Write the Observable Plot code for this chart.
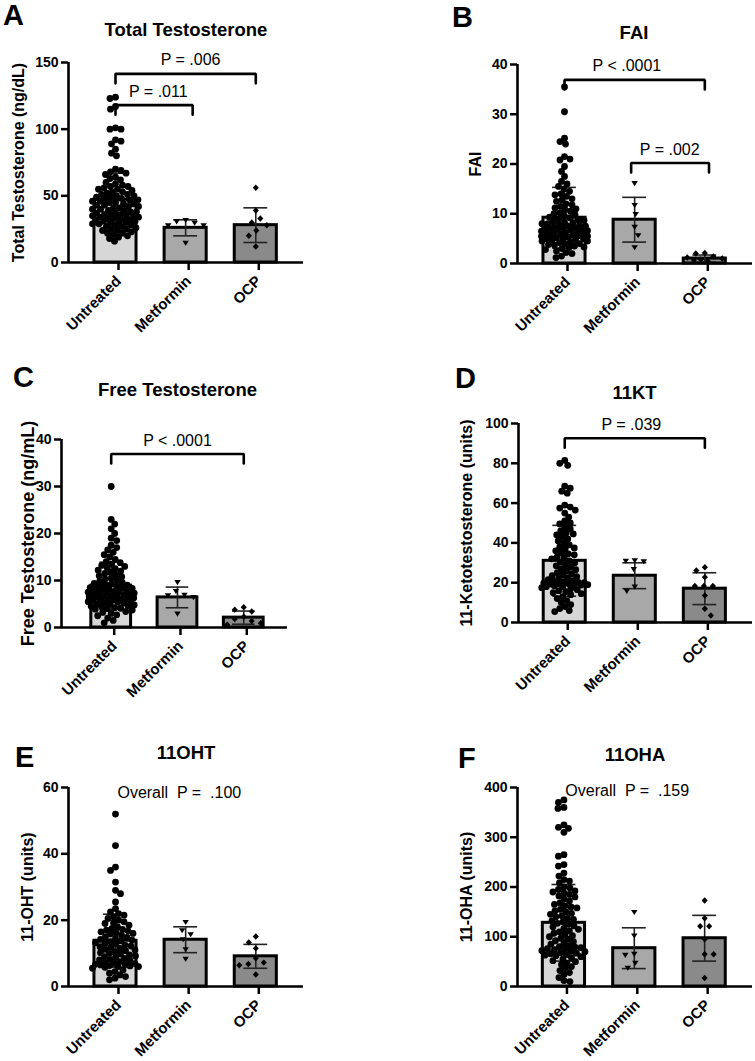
<!DOCTYPE html>
<html><head><meta charset="utf-8">
<script src="https://cdn.jsdelivr.net/npm/d3@7"></script>
<script src="https://cdn.jsdelivr.net/npm/@observablehq/plot@0.6"></script>
<style>
body{margin:0;background:#fff;}
#page{position:relative;width:755px;height:1061px;background:#fff;overflow:hidden;font-family:"Liberation Sans",Arial,sans-serif;color:#000;}
.letter{position:absolute;font-weight:bold;font-size:29px;line-height:1.1;white-space:nowrap;}
.title{position:absolute;font-weight:bold;font-size:18.5px;line-height:1;white-space:nowrap;transform:translateX(-50%);}
.panel{position:absolute;}
svg text{white-space:pre;}
</style></head>
<body><div id="page"></div>
<script>
// ---------- data ----------
const groups = ["Untreated", "Metformin", "OCP"];
const barFills = ["#d7d7d7", "#a8a8a8", "#8a8a8a"];

// A: Total Testosterone (ng/dL)
const totalT_untreated = [124,123,117,115,101,100,100,92,91,89,85,82,80,70,69,68,67,66,64,63,62,60,59,58,57,57,56,55,55,54,53,53,52,51,51,50,50,49,49,48,48,47,47,46,46,45,45,44,44,43,43,42,42,41,41,40,40,39,39,38,38,37,37,36,36,36,35,35,35,34,34,34,33,33,33,32,32,31,31,31,30,30,29,29,28,28,27,27,26,25,25,24,24,23,22,22,21,20,19,18,16];
const totalT_metformin = [30,32,28,28,31,15];
const totalT_ocp = [56,39,33,30,28,24,20,12];
const totalT_mean = [47,26,28];
const totalT_sd = [20,6,13];
const totalT_ticks = [0,50,100,150];
const totalT_brackets = [
  {from:0, to:2, y:141.5, labelX:1.07, label:"P = .006"},
  {from:0, to:1.1, y:118, labelX:0.61, label:"P = .011"}
];

// B: FAI
const fai_untreated = [35.5,30.5,25.2,24.5,24,21.5,21,20.8,19.5,18.5,17.5,16.5,16,15.5,15,14.5,14,13.8,13.5,13,12.8,12.5,12,11.8,11.5,11.2,11,10.8,10.5,10.2,10,9.8,9.5,9.3,9.2,9,8.8,8.7,8.5,8.3,8.2,8,8,7.8,7.7,7.5,7.5,7.3,7.2,7.1,7,7,6.9,6.8,6.7,6.6,6.5,6.5,6.3,6.2,6.1,6,6,5.8,5.7,5.6,5.5,5.5,5.3,5.2,5.1,5,5,4.8,4.7,4.5,4.5,4.3,4.2,4,4,3.8,3.7,3.5,3.3,3.2,3,2.8,2.5,2.2,2,1.5,1.2];
const fai_metformin = [16.2,11.8,10,7.4,5.7,3.3];
const fai_ocp = [2.1,2.0,1.4,1.2,1.0,0.8,0.7,0.5];
const fai_mean = [9.2,8.8,1.0];
const fai_sd = [6.1,4.5,0.7];
const fai_ticks = [0,10,20,30,40];
const fai_brackets = [
  {from:0, to:2, y:36.9, labelX:0.89, label:"P < .0001"},
  {from:0.95, to:2.06, y:20.2, labelX:1.5, label:"P = .002"}
];

// C: Free Testosterone (ng/mL)
const freeT_untreated = [30,23,22,21,20,19,18.5,17.5,17,16.5,16,15.5,15,14.5,14,13.8,13.5,13.2,13,12.7,12.5,12.2,12,11.7,11.5,11.2,11,10.8,10.5,10.3,10,9.8,9.6,9.4,9.2,9.1,9,8.8,8.6,8.5,8.4,8.3,8.2,8.1,8,7.8,7.7,7.6,7.5,7.4,7.3,7.2,7.1,7,6.9,6.8,6.7,6.6,6.5,6.4,6.3,6.2,6.1,6,5.9,5.8,5.7,5.6,5.5,5.4,5.3,5.2,5,4.9,4.8,4.6,4.5,4.4,4.2,4.1,4,3.9,3.7,3.4,3.2,3,2.7,2.5,2,1.5,1];
const freeT_metformin = [9.7,7.8,7,6.9,6.5,3];
const freeT_ocp = [4.3,3.8,3.4,2.3,1.8,1.4,0.9,0.6];
const freeT_mean = [8.9,6.4,2.1];
const freeT_sd = [5.0,2.2,1.4];
const freeT_ticks = [0,10,20,30,40];
const freeT_brackets = [
  {from:0, to:2, y:36.9, labelX:1.0, label:"P < .0001"}
];

// D: 11KT
const kt_untreated = [81.5,80,79,68.5,67.5,66,65,59,58,57.5,56.5,55,53,51,50,49.5,48,47,46,45,44.5,44,43,42,41,40,39,38,37.5,37,36,35,34.5,34,33,32.5,32,31,30.5,30,29,28.5,28,27,26.5,26,25,24.5,24,23.5,23,22.5,22,21.5,21,20.7,20.5,20.2,20,19.8,19.5,19.5,19.3,19,19,18.8,18.5,18,18,17.5,17,16.5,16,15.5,15,14.5,14,13,12,11,10,9,8,7,6,5.5];
const kt_metformin = [31.4,31.1,30.8,26.9,18.1,16];
const kt_ocp = [27.8,26.1,22.8,18.3,18.3,18.3,13.6,6.9,3.5];
const kt_mean = [31,23.5,17];
const kt_sd = [17.8,6.5,8];
const kt_ticks = [0,20,40,60,80,100];
const kt_brackets = [
  {from:0, to:2, y:92.6, labelX:0.95, label:"P = .039"}
];

// E: 11OHT
const oht_untreated = [52,42.5,36,35,31.5,29,28,25.5,23.5,22.5,22,21.5,21,20.5,20,19.5,19.2,19,18.5,18,17.5,17.2,17,16.8,16.5,16.2,16,15.8,15.5,15,14.8,14.5,14.2,14,13.8,13.5,13.2,13,12.8,12.5,12.2,12,11.8,11.5,11.2,11,10.8,10.5,10.2,10,9.8,9.5,9.2,9,8.8,8.5,8.2,8,7.8,7.5,7.2,7,6.9,6.8,6.7,6.5,6.3,6.2,6,6,5.8,5.5,5,4.5,4,3.5,3,2.5,2];
const oht_metformin = [19.5,17,15.8,14.3,11.3,8.4];
const oht_ocp = [15.1,13.3,11.5,8.5,7.2,6.8,6.4,3.6];
const oht_mean = [13.8,14.1,9.1];
const oht_sd = [8,3.9,3.6];
const oht_ticks = [0,20,40,60];
const oht_notes = [{labelX:0.91, y:56.9, label:"Overall  P =  .100"}];

// F: 11OHA
const oha_untreated = [375,370,360,358,325,320,318,310,265,262,245,242,228,222,215,212,208,200,198,195,192,190,188,185,182,180,176,172,168,165,162,160,158,155,152,150,147,145,142,140,137,135,132,130,127,125,122,120,117,115,112,110,107,105,102,100,97,95,92,90,87,85,82,80,79,78,76,75,74,72,71,70,68,67,66,64,63,62,60,58,55,52,50,47,44,40,36,32,28,24,18,12,10];
const oha_metformin = [150,103,66,64,48,38];
const oha_ocp = [173,137,121,121,95,65,65,17];
const oha_mean = [128,77,97];
const oha_sd = [77,41,46];
const oha_ticks = [0,100,200,300,400];
const oha_notes = [{labelX:0.9, y:382, label:"Overall  P =  .159"}];

// ---------- panels ----------
const panels = [
  {letter:"A", title:"Total Testosterone", ylabel:"Total Testosterone (ng/dL)", series:[totalT_untreated,totalT_metformin,totalT_ocp], mean:totalT_mean, sd:totalT_sd, ymax:150, ticks:totalT_ticks, brackets:totalT_brackets, notes:[],
   L:{l:68,r:303,t:62,b:262,xmin:-0.67,xmax:2.68,letterX:3,letterCap:5,titleX:186,titleCap:23.3,ylDx:-50,ylSize:16}},
  {letter:"B", title:"FAI", ylabel:"FAI", series:[fai_untreated,fai_metformin,fai_ocp], mean:fai_mean, sd:fai_sd, ymax:40, ticks:fai_ticks, brackets:fai_brackets, notes:[],
   L:{l:517,r:752,t:64,b:263,xmin:-0.67,xmax:2.68,letterX:452,letterCap:7,titleX:634,titleCap:26.7,ylDx:-41.5,ylSize:16}},
  {letter:"C", title:"Free Testosterone", ylabel:"Free Testosterone (ng/mL)", series:[freeT_untreated,freeT_metformin,freeT_ocp], mean:freeT_mean, sd:freeT_sd, ymax:40, ticks:freeT_ticks, brackets:freeT_brackets, notes:[],
   L:{l:61,r:287,t:439,b:627,xmin:-0.75,xmax:2.66,letterX:13,letterCap:367,titleX:177.5,titleCap:383.3,ylDx:-33.5,ylSize:18}},
  {letter:"D", title:"11KT", ylabel:"11-Ketotestosterone (units)", series:[kt_untreated,kt_metformin,kt_ocp], mean:kt_mean, sd:kt_sd, ymax:100, ticks:kt_ticks, brackets:kt_brackets, notes:[],
   L:{l:518,r:752,t:423,b:622,xmin:-0.66,xmax:2.68,letterX:455,letterCap:368,titleX:634.5,titleCap:386.7,ylDx:-51.5,ylSize:16}},
  {letter:"E", title:"11OHT", ylabel:"11-OHT (units)", series:[oht_untreated,oht_metformin,oht_ocp], mean:oht_mean, sd:oht_sd, ymax:60, ticks:oht_ticks, brackets:[], notes:oht_notes,
   L:{l:68,r:303,t:787,b:986,xmin:-0.67,xmax:2.68,letterX:15,letterCap:747,titleX:186,titleCap:746.7,ylDx:-40.5,ylSize:16}},
  {letter:"F", title:"11OHA", ylabel:"11-OHA (units)", series:[oha_untreated,oha_metformin,oha_ocp], mean:oha_mean, sd:oha_sd, ymax:400, ticks:oha_ticks, brackets:[], notes:oha_notes,
   L:{l:517,r:752,t:787,b:986,xmin:-0.66,xmax:2.68,letterX:458,letterCap:748,titleX:635,titleCap:748.3,ylDx:-50.5,ylSize:16}}
];

// ---------- symbols ----------
const downTriangle = {draw(ctx, size){ const r = Math.sqrt(size/Math.PI);
  ctx.moveTo(-0.95*r,-0.55*r); ctx.lineTo(0.95*r,-0.55*r); ctx.lineTo(0,0.95*r); ctx.closePath(); }};
const diamondSym = {draw(ctx, size){ const r = Math.sqrt(size/Math.PI);
  ctx.moveTo(0,-0.95*r); ctx.lineTo(0.9*r,0); ctx.lineTo(0,0.95*r); ctx.lineTo(-0.9*r,0); ctx.closePath(); }};
const symbols = ["circle", downTriangle, diamondSym];

// beeswarm layout (pixel space) -> x in data units
function swarm(values, center, pxX, pxY, minD, maxOff) {
  const idx = d3.range(values.length).sort((a, b) => values[b] - values[a]);
  const placed = [];
  const out = new Array(values.length);
  idx.forEach((k, n) => {
    const y = values[k] * pxY;
    const sign = n % 2 ? -1 : 1;
    let best = null, fallback = 0, fallbackScore = -Infinity;
    for (let s = 0; s <= maxOff && best === null; s += 0.5) {
      const cands = s === 0 ? [0] : [sign*s, -sign*s];
      for (const off of cands) {
        let m = Infinity;
        for (const p of placed) { const dd = Math.hypot(p.x - off, p.y - y); if (dd < m) m = dd; }
        if (m >= minD) { best = off; break; }
        if (m > fallbackScore) { fallbackScore = m; fallback = off; }
      }
    }
    if (best === null) best = fallback;
    placed.push({x: best, y});
    out[k] = center + best / pxX;
  });
  return out;
}

const page = document.getElementById("page");

for (const p of panels) {
  const L = p.L;
  const letter = document.createElement("div");
  letter.className = "letter"; letter.textContent = p.letter;
  letter.style.left = L.letterX + "px"; letter.style.top = (L.letterCap - 0.18*29) + "px";
  page.appendChild(letter);
  const title = document.createElement("div");
  title.className = "title"; title.textContent = p.title;
  title.style.left = L.titleX + "px"; title.style.top = (L.titleCap - 0.13*18.5) + "px";
  page.appendChild(title);

  const svgX = L.l < 300 ? 0 : 440;
  const svgY = L.t - 40;
  const W = L.r + 3 - svgX, H = Math.min(L.b + 80, 1060) - svgY;
  const pxX = (L.r - L.l) / (L.xmax - L.xmin);
  const pxY = (L.b - L.t) / p.ymax;

  const pts = [];
  p.series.forEach((vals, gi) => {
    const xs = swarm(vals, gi, pxX, pxY, gi === 0 ? 5.6 : 9, 23);
    vals.forEach((v, k) => pts.push({g: gi, x: xs[k], y: v}));
  });
  const bars = groups.map((g, i) => ({i, g, mean: p.mean[i], sd: p.sd[i]}));
  const drop = 9.5 / pxY;
  const bracketPts = p.brackets.flatMap((b, j) => [
    {id:j, x:b.from, y:b.y - drop}, {id:j, x:b.from, y:b.y},
    {id:j, x:b.to, y:b.y}, {id:j, x:b.to, y:b.y - drop}]);

  const chart = Plot.plot({
    width: W, height: H,
    marginLeft: L.l - svgX, marginRight: svgX + W - L.r,
    marginTop: L.t - svgY, marginBottom: svgY + H - L.b,
    x: {domain: [L.xmin, L.xmax]},
    y: {domain: [0, p.ymax]},
    color: {domain: groups, range: barFills},
    style: {fontFamily: '"Liberation Sans", Arial, sans-serif', fontSize: "14px", color: "black", background: "transparent", overflow: "visible"},
    marks: [
      Plot.rectY(bars, {x1: d => d.i - 0.3, x2: d => d.i + 0.3, y1: () => 0, y2: "mean", fill: "g", stroke: "black", strokeWidth: 3}),
      Plot.ruleX(bars, {x: "i", y1: d => d.mean - d.sd, y2: d => d.mean + d.sd, stroke: "#222", strokeWidth: 1.6}),
      Plot.ruleY(bars, {y: d => d.mean + d.sd, x1: d => d.i - 0.17, x2: d => d.i + 0.17, stroke: "#222", strokeWidth: 1.6}),
      Plot.ruleY(bars, {y: d => d.mean - d.sd, x1: d => d.i - 0.17, x2: d => d.i + 0.17, stroke: "#222", strokeWidth: 1.6}),
      ...[0,1,2].map(gi => Plot.dot(pts.filter(d => d.g === gi), {x: "x", y: "y", r: 3.4, fill: "black", stroke: null, symbol: symbols[gi]})),
      Plot.ruleY([0], {stroke: "black", strokeWidth: 2.6}),
      Plot.ruleX([L.xmin], {y1: () => 0, y2: () => p.ymax, stroke: "black", strokeWidth: 2.6}),
      Plot.axisY({ticks: p.ticks, tickSize: 7, tickPadding: 3, fontSize: 14, fontWeight: "bold", strokeWidth: 2.5, label: null}),
      Plot.axisX({ticks: [0,1,2], tickFormat: i => groups[i], tickRotate: -45, tickSize: 8, tickPadding: 8, dx: 3, fontSize: 15, fontWeight: "bold", strokeWidth: 2.5, label: null}),
      Plot.text([p.ylabel], {frameAnchor: "left", dx: L.ylDx, rotate: -90, textAnchor: "middle", lineAnchor: "middle", fontSize: L.ylSize, fontWeight: "bold"}),
      Plot.line(bracketPts, {x: "x", y: "y", z: "id", stroke: "black", strokeWidth: 2.6, strokeLinejoin: "miter"}),
      Plot.text(p.brackets, {x: "labelX", y: "y", text: "label", dy: -8.5, lineAnchor: "bottom", fontSize: 16}),
      Plot.text(p.notes, {x: "labelX", y: "y", text: "label", lineAnchor: "bottom", fontSize: 16})
    ]
  });
  const holder = document.createElement("div");
  holder.className = "panel";
  holder.style.left = svgX + "px"; holder.style.top = svgY + "px";
  holder.appendChild(chart);
  page.appendChild(holder);
}
</script>
</body></html>
